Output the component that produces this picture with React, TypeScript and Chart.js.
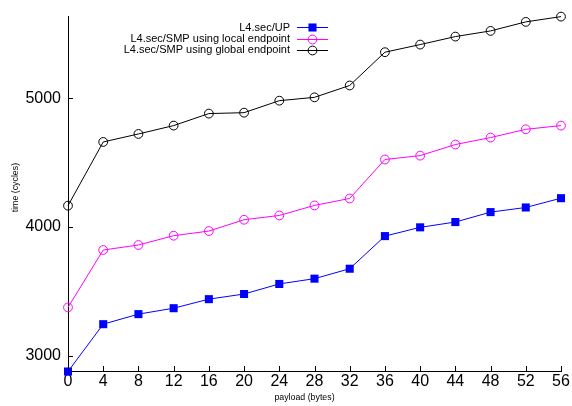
import React, { useEffect, useRef } from 'react';
import { Chart, registerables } from 'chart.js';

Chart.register(...registerables);

const payloads = [0, 4, 8, 12, 16, 20, 24, 28, 32, 36, 40, 44, 48, 52, 56];
const upTimes = [2880, 3247, 3325, 3371, 3441, 3481, 3559, 3600, 3677, 3930, 3998, 4039, 4116, 4152, 4224];
const localTimes = [3377, 3822, 3861, 3933, 3969, 4057, 4090, 4168, 4222, 4524, 4554, 4640, 4694, 4758, 4787];
const globalTimes = [4166, 4660, 4722, 4787, 4880, 4887, 4980, 5006, 5098, 5356, 5415, 5477, 5521, 5591, 5632];
const yTickValues = [3000, 4000, 5000];
const xTickValues = payloads;
const seriesLabels = ['L4.sec/UP', 'L4.sec/SMP using local endpoint', 'L4.sec/SMP using global endpoint'];
const xTitle = 'payload (bytes)';
const yTitle = 'time (cycles)';

const FONT = '"Liberation Sans", Arial, Helvetica, sans-serif';

const decorPlugin = {
  id: 'decor',
  afterDraw(chart: any) {
    const ctx = chart.ctx as CanvasRenderingContext2D;
    const { left, top, bottom } = chart.chartArea;
    const xs = chart.scales.x;
    const ys = chart.scales.y;
    ctx.save();
    ctx.strokeStyle = '#000';
    ctx.lineWidth = 1;
    ctx.beginPath();
    xs.ticks.forEach((t: any) => {
      const px = Math.round(xs.getPixelForValue(t.value)) + 0.5;
      ctx.moveTo(px, bottom);
      ctx.lineTo(px, bottom - 5);
    });
    ys.ticks.forEach((t: any) => {
      const py = Math.round(ys.getPixelForValue(t.value)) + 0.5;
      ctx.moveTo(left, py);
      ctx.lineTo(left + 5, py);
    });
    ctx.stroke();

    // axis titles
    ctx.fillStyle = '#000';
    ctx.font = `8.8px ${FONT}`;
    ctx.textAlign = 'center';
    ctx.textBaseline = 'middle';
    ctx.fillText(xTitle, left + 236.5, bottom + 27);
    ctx.save();
    ctx.translate(16, top + 171);
    ctx.rotate(-Math.PI / 2);
    ctx.fillText(yTitle, 0, 0);
    ctx.restore();

    // legend
    ctx.font = `11px ${FONT}`;
    ctx.textAlign = 'right';
    ctx.textBaseline = 'middle';
    chart.data.datasets.forEach((ds: any, i: number) => {
      const y = top + 10.5 + i * 11.4;
      ctx.fillStyle = '#000';
      ctx.fillText(ds.label, left + 222, y + 0.5);
      ctx.strokeStyle = ds.borderColor;
      ctx.lineWidth = 1;
      ctx.beginPath();
      ctx.moveTo(left + 229, Math.round(y) + 0.5);
      ctx.lineTo(left + 260, Math.round(y) + 0.5);
      ctx.stroke();
      const mx = left + 244.5;
      const my = Math.round(y) + 0.5;
      const r = ds.pointRadius;
      if (ds.pointStyle === 'rect') {
        const s = Math.SQRT1_2 * r;
        ctx.fillStyle = ds.pointBackgroundColor;
        ctx.fillRect(mx - s, my - s, 2 * s, 2 * s);
      } else {
        ctx.beginPath();
        ctx.arc(mx, my, r, 0, Math.PI * 2);
        ctx.stroke();
      }
    });
    ctx.restore();
  },
};

function toPoints(values: number[]) {
  return payloads.map((x, i) => ({ x, y: values[i] }));
}

export default function App() {
  const ref = useRef<HTMLCanvasElement | null>(null);
  useEffect(() => {
    document.body.style.margin = '0';
    const canvas = ref.current;
    if (!canvas) return;
    const chart = new Chart(canvas, {
      type: 'line',
      data: {
        datasets: [
          {
            label: seriesLabels[0],
            data: toPoints(upTimes),
            borderColor: '#0000ff',
            backgroundColor: '#0000ff',
            borderWidth: 1,
            pointStyle: 'rect',
            pointRadius: 5.7,
            pointBackgroundColor: '#0000ff',
            pointBorderColor: '#0000ff',
            pointBorderWidth: 0,
            tension: 0,
            clip: false as any,
          },
          {
            label: seriesLabels[1],
            data: toPoints(localTimes),
            borderColor: '#ff00ff',
            backgroundColor: 'rgba(0,0,0,0)',
            borderWidth: 1,
            pointStyle: 'circle',
            pointRadius: 4.4,
            pointBackgroundColor: 'rgba(0,0,0,0)',
            pointBorderColor: '#ff00ff',
            pointBorderWidth: 1,
            tension: 0,
            clip: false as any,
          },
          {
            label: seriesLabels[2],
            data: toPoints(globalTimes),
            borderColor: '#000000',
            backgroundColor: 'rgba(0,0,0,0)',
            borderWidth: 1,
            pointStyle: 'circle',
            pointRadius: 4.4,
            pointBackgroundColor: 'rgba(0,0,0,0)',
            pointBorderColor: '#000000',
            pointBorderWidth: 1,
            tension: 0,
            clip: false as any,
          },
        ],
      },
      options: {
        animation: false,
        responsive: false,
        maintainAspectRatio: false,
        devicePixelRatio: 1,
        layout: { padding: { top: 15, right: 11, left: 0, bottom: 0 } },
        plugins: {
          legend: { display: false },
          tooltip: { enabled: false },
          title: { display: false },
        },
        scales: {
          x: {
            type: 'linear',
            min: 0,
            max: 56,
            grid: { display: false, drawTicks: false },
            border: { display: true, color: '#000', width: 1 },
            ticks: {
              color: '#000',
              font: { family: FONT, size: 16 },
              padding: 1,
              maxRotation: 0,
              autoSkip: false,
              callback: (v: any) => String(v),
            },
            afterBuildTicks: (scale: any) => {
              scale.ticks = xTickValues.map((v) => ({ value: v }));
            },
            afterFit: (scale: any) => {
              scale.height = 35;
            },
          },
          y: {
            type: 'linear',
            min: 2884,
            max: 5632,
            grid: { display: false, drawTicks: false },
            border: { display: true, color: '#000', width: 1 },
            ticks: {
              color: '#000',
              font: { family: FONT, size: 16 },
              padding: 7,
              autoSkip: false,
              callback: (v: any) => String(v),
            },
            afterBuildTicks: (scale: any) => {
              scale.ticks = yTickValues.map((v) => ({ value: v }));
            },
            afterFit: (scale: any) => {
              scale.width = 68;
            },
          },
        },
      },
      plugins: [decorPlugin],
    });
    return () => chart.destroy();
  }, []);
  return (
    <div style={{ width: 572, height: 406, position: 'relative' }}>
      <canvas ref={ref} width={572} height={406} style={{ display: 'block', width: 572, height: 406 }} />
    </div>
  );
}
